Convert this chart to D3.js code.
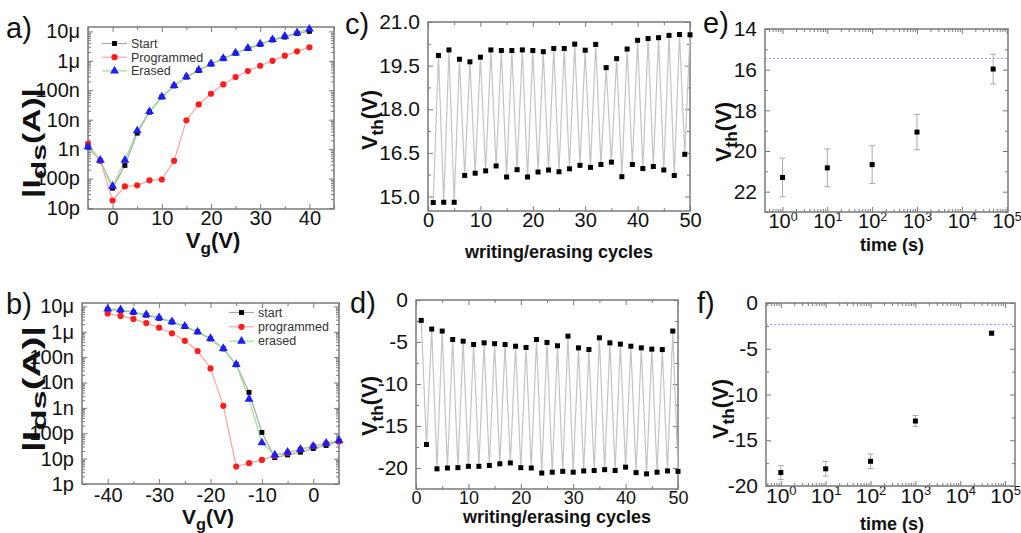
<!DOCTYPE html>
<html>
<head>
<meta charset="utf-8">
<script src="https://cdn.jsdelivr.net/npm/d3@7"></script>
<style>
body { margin: 0; background: #fff; }
svg { display: block; font-family: "Liberation Sans", Arial, sans-serif; }
</style>
</head>
<body>
<svg width="1021" height="533"></svg>
<script>
// ---- data ----
var vgA = [-5, -2.5, 0, 2.5, 5, 7.5, 10, 12.5, 15, 17.5, 20, 22.5, 25, 27.5, 30, 32.5, 35, 37.5, 40];
var startA = [1.17e-9, 4e-10, 4.7e-11, 2.8e-10, 3.5e-9, 1.8e-8, 5.9e-8, 1.4e-7, 2.8e-7, 4.7e-7, 7.7e-7, 1.18e-6, 1.8e-6, 2.6e-6, 3.6e-6, 5.1e-6, 6.4e-6, 8.5e-6, 1.0e-5];
var progA = [1.5e-9, 4e-10, 1.8e-11, 5.4e-11, 5.9e-11, 8.7e-11, 9.3e-11, 4e-10, 9.5e-9, 3.3e-8, 7.6e-8, 1.58e-7, 2.8e-7, 4.5e-7, 6.8e-7, 1.0e-6, 1.5e-6, 2.1e-6, 2.9e-6];
var erasedA = [1.2e-9, 4.2e-10, 5.5e-11, 4.2e-10, 4.2e-9, 1.9e-8, 6e-8, 1.45e-7, 2.9e-7, 4.9e-7, 8e-7, 1.22e-6, 1.85e-6, 2.7e-6, 3.8e-6, 5.3e-6, 6.9e-6, 9e-6, 1.2e-5];

var vgB = [-40, -37.5, -35, -32.5, -30, -27.5, -25, -22.5, -20, -17.5, -15, -12.5, -10, -7.5, -5, -2.5, 0, 2.5, 5];
var startB = [7.5e-6, 7e-6, 5.8e-6, 4.5e-6, 3.4e-6, 2.4e-6, 1.6e-6, 9.8e-7, 5.2e-7, 2.1e-7, 5e-8, 4.1e-9, 1.08e-10, 1.1e-11, 1.4e-11, 1.8e-11, 2.5e-11, 3.3e-11, 4.8e-11];
var progB = [5.3e-6, 4.2e-6, 3.2e-6, 2.2e-6, 1.45e-6, 8.7e-7, 4.4e-7, 1.75e-7, 3.6e-8, 1.2e-9, 4.9e-12, 6.6e-12, 8.9e-12, 1.3e-11, 1.7e-11, 2.3e-11, 3.1e-11, 4e-11, 4.8e-11];
var erasedB = [8e-6, 7.4e-6, 6e-6, 4.7e-6, 3.6e-6, 2.5e-6, 1.66e-6, 1.0e-6, 5.5e-7, 2.2e-7, 5.2e-8, 2.2e-9, 4.2e-11, 1.4e-11, 1.8e-11, 2.3e-11, 3.1e-11, 4.1e-11, 5.2e-11];

var vthC = [14.79, 19.85, 14.8, 20.04, 14.8, 19.72, 15.72, 19.63, 15.8, 19.79, 15.88, 20.04, 16.05, 20.02, 15.67, 20.02, 15.92, 20.04, 15.67, 20.02,
            15.84, 19.98, 15.91, 20.09, 15.85, 20.09, 15.95, 20.24, 16.07, 20.03, 16.0, 20.23, 16.1, 19.43, 16.18, 19.74, 15.68, 20.07, 16.1, 20.37,
            15.96, 20.43, 16.03, 20.46, 15.91, 20.54, 15.72, 20.57, 16.45, 20.56];
var vthD = [-2.43, -17.2, -3.46, -20.1, -3.7, -20.0, -4.7, -19.96, -4.9, -19.8, -5.3, -19.8, -5.1, -19.7, -5.2, -19.5, -5.3, -19.4, -5.5, -19.96,
            -5.65, -20.0, -4.7, -20.6, -5.05, -20.5, -5.45, -20.4, -4.3, -20.5, -5.7, -20.35, -5.9, -20.3, -4.5, -20.2, -5.1, -20.3, -5.25, -19.9,
            -5.5, -20.55, -5.7, -20.7, -5.85, -20.5, -5.9, -20.35, -3.7, -20.4];

var timeE = [1, 10, 100, 1000, 50000];
var vthE = [21.3, 20.83, 20.67, 19.07, 15.97];
var errE = [0.95, 0.93, 0.93, 0.87, 0.73];
var refE = 15.45;
var vthF = [-18.53, -18.12, -17.3, -12.9, -3.3];
var errF = [0.75, 0.8, 0.8, 0.6, 0.2];
var refF = -2.36;

var legendA = ["Start", "Programmed", "Erased"];
var legendB = ["start", "programmed", "erased"];

// ---- styles ----
var lineCol = ["#a8a8a8", "#ffa2a2", "#98e098"],
	markCol = ["#000", "#ff1c1c", "#1c1cff"],
	markSym = [d3.symbolSquare, d3.symbolCircle, d3.symbolTriangle],
	markSize = [24, 30, 34],
	axisCol = "#7a7a7a";

var svg = d3.select("svg");
svg.append("rect").attr("width", 1021).attr("height", 533).attr("fill", "#fff");

function si(v) {
	var e = Math.round(Math.log10(v)),
		b = Math.floor(e / 3) * 3,
		p = { "-12": "p", "-9": "n", "-6": "μ" }[b];
	return Math.pow(10, e - b) + p;
}
function logMinor(lo, hi) {
	var out = [];
	for (var e = Math.floor(Math.log10(lo)); e <= Math.ceil(Math.log10(hi)); e++)
		for (var k = 2; k < 10; k++) {
			var v = k * Math.pow(10, e);
			if (v > lo && v < hi) out.push(v);
		}
	return out;
}

function panel(o) {
	var g = svg.append("g").attr("transform", "translate(" + o.x0 + "," + o.y0 + ")");
	var w = o.x.range()[1], h = o.y.range()[0];

	var defs = [
		[d3.axisBottom, o.x, "translate(0," + h + ")", o.xTicks, o.xMinor, o.xFmt, o.xfs || o.fs, o.xpad || 2],
		[d3.axisTop, o.x, null, o.xTicks, o.xMinor, null, o.fs, 2],
		[d3.axisLeft, o.y, null, o.yTicks, o.yMinor, o.yFmt, o.fs, 8],
		[d3.axisRight, o.y, "translate(" + w + ",0)", o.yTicks, o.yMinor, null, o.fs, 2]
	];
	defs.forEach(function(d) {
		var gm = g.append("g").attr("transform", d[2])
			.call(d[0](d[1]).tickValues(d[4]).tickSize(-3).tickFormat(""));
		var gM = g.append("g").attr("transform", d[2])
			.call(d[0](d[1]).tickValues(d[3]).tickSize(-5).tickPadding(d[7])
				.tickFormat(d[5] || ""));
		[gm, gM].forEach(function(s) {
			s.select(".domain").remove();
			s.selectAll("line").attr("stroke", axisCol).attr("stroke-width", 1);
			s.selectAll("text").attr("font-size", d[6]).attr("fill", "#111")
				.attr("font-family", "'Liberation Sans', Arial, sans-serif");
		});
		if (d[0] === d3.axisBottom && o.supX) {
			gM.selectAll(".tick text").each(function(v) {
				var t = d3.select(this).text("10");
				t.append("tspan").attr("dy", "-0.6em").attr("font-size", "0.62em")
					.text(Math.round(Math.log10(v)));
			});
		}
	});

	g.append("rect").attr("width", w).attr("height", h)
		.attr("fill", "none").attr("stroke", axisCol).attr("stroke-width", 1.5);

	return g;
}

function ylabel(x, y, main, sub, tail, fs, len, subScale) {
	var t = svg.append("text").attr("transform", "translate(" + x + "," + y + ") rotate(-90)")
		.attr("text-anchor", "middle").attr("font-weight", "bold").attr("font-size", fs).attr("fill", "#111");
	t.append("tspan").text(main);
	t.append("tspan").attr("font-size", fs * (subScale || 0.78)).attr("dy", fs * 0.28).text(sub);
	t.append("tspan").attr("dy", -fs * 0.28).text(tail);
	if (len) t.attr("textLength", len).attr("lengthAdjust", "spacingAndGlyphs");
}
function xlabel(x, y, main, sub, tail, fs) {
	var t = svg.append("text").attr("x", x).attr("y", y)
		.attr("text-anchor", "middle").attr("font-weight", "bold").attr("font-size", fs).attr("fill", "#111");
	t.append("tspan").text(main);
	if (sub) {
		t.append("tspan").attr("font-size", fs * 0.78).attr("dy", fs * 0.28).text(sub);
		t.append("tspan").attr("dy", -fs * 0.28).text(tail);
	}
}
function tag(x, y, s) {
	svg.append("text").attr("x", x).attr("y", y).attr("font-size", 29).attr("fill", "#111").text(s);
}

function transfer(g, x, y, vg, series) {
	series.forEach(function(s, i) {
		g.append("path").datum(s)
			.attr("fill", "none").attr("stroke", lineCol[i]).attr("stroke-width", 1.2)
			.attr("d", d3.line().x(function(d, j) { return x(vg[j]); }).y(function(d) { return y(d); }));
	});
	series.forEach(function(s, i) {
		g.selectAll(null).data(s).enter().append("path")
			.attr("transform", function(d, j) { return "translate(" + x(vg[j]) + "," + y(d) + ")"; })
			.attr("d", d3.symbol().type(markSym[i]).size(markSize[i]))
			.attr("fill", markCol[i]);
	});
}

function legend(g, x, y, dy, names) {
	names.forEach(function(n, i) {
		var r = g.append("g").attr("transform", "translate(" + x + "," + (y + i * dy) + ")");
		r.append("line").attr("x1", 0).attr("x2", 25).attr("stroke", lineCol[i]).attr("stroke-width", 1.2);
		r.append("path").attr("transform", "translate(12.5,0)")
			.attr("d", d3.symbol().type(markSym[i]).size(markSize[i])).attr("fill", markCol[i]);
		r.append("text").attr("x", 29).attr("dy", "0.35em").attr("font-size", 12.5).attr("fill", "#333").text(n);
	});
}

function cycling(g, x, y, vals) {
	g.append("path").datum(vals)
		.attr("fill", "none").attr("stroke", "#c4c4c4").attr("stroke-width", 1.2)
		.attr("d", d3.line().x(function(d, j) { return x(j + 1); }).y(function(d) { return y(d); }));
	g.selectAll(null).data(vals).enter().append("rect")
		.attr("x", function(d, j) { return x(j + 1) - 2.5; })
		.attr("y", function(d) { return y(d) - 2.5; })
		.attr("width", 5).attr("height", 5).attr("fill", "#000");
}

function retention(g, x, y, vals, errs, ref) {
	var w = x.range()[1];
	g.append("line").attr("x1", 0).attr("x2", w).attr("y1", y(ref)).attr("y2", y(ref))
		.attr("stroke", "#9a9aff").attr("stroke-width", 1).attr("stroke-dasharray", "2,2");
	var pt = g.selectAll(null).data(vals).enter().append("g")
		.attr("transform", function(d, j) { return "translate(" + x(timeE[j]) + ",0)"; });
	pt.append("line").attr("y1", function(d, j) { return y(d - errs[j]); })
		.attr("y2", function(d, j) { return y(d + errs[j]); })
		.attr("stroke", "#aaa").attr("stroke-width", 1);
	[-1, 1].forEach(function(sg) {
		pt.append("line").attr("x1", -3).attr("x2", 3)
			.attr("y1", function(d, j) { return y(d + sg * errs[j]); })
			.attr("y2", function(d, j) { return y(d + sg * errs[j]); })
			.attr("stroke", "#aaa").attr("stroke-width", 1);
	});
	pt.append("rect").attr("x", -2.5).attr("y", function(d) { return y(d) - 2.5; })
		.attr("width", 5).attr("height", 5).attr("fill", "#000");
}

var decades = function(a, b) { var o = []; for (var e = a; e <= b; e++) o.push(Math.pow(10, e)); return o; };
var plain = function(v) { return String(v); };

// ---- a) ----
var xA = d3.scaleLinear().domain([-5, 45]).range([0, 246]),
	yA = d3.scaleLog().domain([9.25e-12, 1.41e-5]).range([182, 0]);
var gA = panel({ x0: 88, y0: 27, x: xA, y: yA, fs: 20,
	xTicks: [0, 10, 20, 30, 40], xMinor: [-5, 5, 15, 25, 35, 45], xFmt: plain,
	yTicks: decades(-11, -5), yMinor: logMinor(9.25e-12, 1.41e-5), yFmt: si });
transfer(gA, xA, yA, vgA, [startA, progA, erasedA]);
legend(gA, 14, 16.5, 13.7, legendA);
xlabel(213, 248, "V", "g", "(V)", 22);
ylabel(40, 143, "|I", "ds", "(A)|", 23, 110, 0.9);
tag(6, 38, "a)");

// ---- b) ----
var xB = d3.scaleLinear().domain([-45, 5]).range([0, 257]),
	yB = d3.scaleLog().domain([1e-12, 1.36e-5]).range([181, 0]);
var gB = panel({ x0: 82, y0: 303, x: xB, y: yB, fs: 20, xpad: 4,
	xTicks: [-40, -30, -20, -10, 0], xMinor: [-45, -35, -25, -15, -5, 5], xFmt: plain,
	yTicks: decades(-12, -5), yMinor: logMinor(1e-12, 1.36e-5), yFmt: si });
transfer(gB, xB, yB, vgB, [startB, progB, erasedB]);
legend(gB, 147, 9.5, 14.3, legendB);
xlabel(208, 524, "V", "g", "(V)", 21);
ylabel(40, 389, "|I", "ds", "(A)|", 23, 126, 0.9);
tag(6, 314, "b)");

// ---- c) ----
var xC = d3.scaleLinear().domain([0, 50]).range([0, 262]),
	yC = d3.scaleLinear().domain([14.5, 21]).range([189, 0]);
var gC = panel({ x0: 428, y0: 22, x: xC, y: yC, fs: 21, xfs: 20,
	xTicks: [0, 10, 20, 30, 40, 50], xMinor: [5, 15, 25, 35, 45], xFmt: plain,
	yTicks: [15, 16.5, 18, 19.5, 21], yMinor: [15.75, 17.25, 18.75, 20.25], yFmt: d3.format(".1f") });
cycling(gC, xC, yC, vthC);
xlabel(559, 258, "writing/erasing cycles", null, null, 18);
ylabel(377, 120, "V", "th", "(V)", 22);
tag(345, 34, "c)");

// ---- d) ----
var xD = d3.scaleLinear().domain([0, 50]).range([0, 262]),
	yD = d3.scaleLinear().domain([-22.5, 0]).range([189, 0]);
var gD = panel({ x0: 416, y0: 300, x: xD, y: yD, fs: 21, xfs: 18, xpad: 2,
	xTicks: [0, 10, 20, 30, 40, 50], xMinor: [5, 15, 25, 35, 45], xFmt: plain,
	yTicks: [-20, -15, -10, -5, 0], yMinor: [-22.5, -17.5, -12.5, -7.5, -2.5], yFmt: plain });
cycling(gD, xD, yD, vthD);
xlabel(557, 523, "writing/erasing cycles", null, null, 18);
ylabel(377, 406, "V", "th", "(V)", 22);
tag(350, 313, "d)");

// ---- e) ----
var xE = d3.scaleLog().domain([Math.pow(10, -0.39), Math.pow(10, 5.03)]).range([0, 243]),
	yE = d3.scaleLinear().domain([23, 14]).range([183, 0]);
var gE = panel({ x0: 765, y0: 29, x: xE, y: yE, fs: 21, xfs: 20, supX: true,
	xTicks: decades(0, 5), xMinor: logMinor(xE.domain()[0], xE.domain()[1]), xFmt: plain,
	yTicks: [14, 16, 18, 20, 22], yMinor: [15, 17, 19, 21, 23], yFmt: plain });
retention(gE, xE, yE, vthE, errE, refE);
xlabel(892, 251, "time (s)", null, null, 18);
ylabel(731, 132, "V", "th", "(V)", 22);
tag(703, 33, "e)");

// ---- f) ----
var xF = d3.scaleLog().domain([Math.pow(10, -0.33), Math.pow(10, 5.22)]).range([0, 249]),
	yF = d3.scaleLinear().domain([-20, 0]).range([183, 0]);
var gF = panel({ x0: 766, y0: 303, x: xF, y: yF, fs: 21, supX: true,
	xTicks: decades(0, 5), xMinor: logMinor(xF.domain()[0], xF.domain()[1]), xFmt: plain,
	yTicks: [-20, -15, -10, -5, 0], yMinor: [-17.5, -12.5, -7.5, -2.5], yFmt: plain });
retention(gF, xF, yF, vthF, errF, refF);
xlabel(892, 530, "time (s)", null, null, 18);
ylabel(728, 409, "V", "th", "(V)", 22);
tag(697, 313, "f)");
</script>
</body>
</html>
